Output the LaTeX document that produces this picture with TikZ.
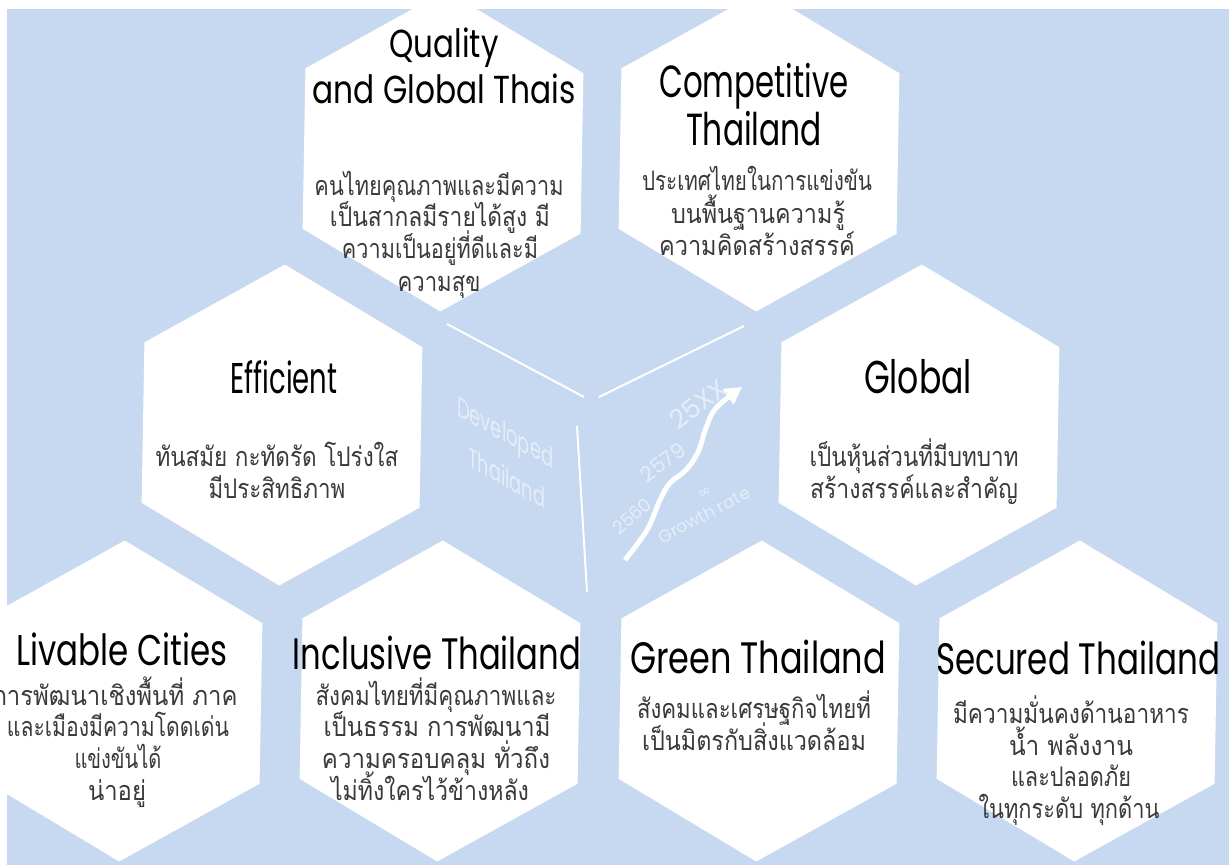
\documentclass[tikz,border=0pt]{standalone}
\usepackage{fontspec}
\usepackage{graphicx}
\usetikzlibrary{shapes.geometric,arrows.meta}
\setmainfont{Poppins}
\newfontfamily\ttlfont{Poppins}
\newfontfamily\thaifont[Script=Thai]{Loma}
\newfontfamily\symfont{DejaVu Sans}
\definecolor{bgblue}{RGB}{198,217,240}
\definecolor{thgray}{RGB}{58,58,58}
\definecolor{faintc}{RGB}{229,237,248}
\newcommand{\fitw}[2]{\resizebox{#1pt}{\height}{#2}}
\tikzset{
  hexa/.style={regular polygon, regular polygon sides=6, shape border rotate=29,
    minimum size=321pt, inner sep=0pt, fill=white, draw=none},
  ttl/.style={anchor=base, inner sep=0pt, text=black,
    font=\ttlfont\fontsize{#1}{#1}\selectfont},
  ttl/.default=44,
  thl/.style={anchor=base, inner sep=0pt, text=thgray,
    font=\thaifont\fontsize{27}{27}\selectfont},
  faintt/.style={inner sep=0pt, text=faintc, font=\ttlfont\fontsize{#1}{#1}\selectfont},
  cubeline/.style={white, line width=2pt},
}
\begin{document}
\begin{tikzpicture}[x=1pt,y=-1pt]
\useasboundingbox (0,0) rectangle (1229,865);
\fill[bgblue] (7,9) rectangle (1229,865);

% hexagons
\node[hexa] (Qh) at (443,151) {};
\node[hexa] (Ch) at (759,151) {};
\node[hexa] (Eh) at (282,425) {};
\node[hexa] (Gh) at (919,425) {};
\node[hexa] (Lh) at (122,701) {};
\node[hexa] (Ih) at (440,701) {};
\node[hexa] (Grh) at (759,701) {};
\node[hexa] (Sh) at (1077,701) {};

% centre cube
\draw[cubeline] (447,324) -- (584,397);
\draw[cubeline] (599,397) -- (744,326);
\draw[cubeline] (577,426) -- (587,592);
\node[faintt=28, anchor=base west, yslant=-0.56] (dev1) at (457,415) {\fitw{96}{Developed}};
\node[faintt=28, anchor=base west, yslant=-0.56] (dev2) at (468,466) {\fitw{77}{Thailand}};
\draw[white, line width=5pt, -{Triangle[length=17pt,width=18pt]}]
  plot[smooth, tension=0.6] coordinates {(625,560) (647,530) (660,500) (670,483) (686,470) (698,452) (706,428) (716,408) (742,387)};
\node[faintt=18, rotate=40] (y1) at (632,516) {2560};
\node[faintt=21, rotate=37] (y2) at (663,462) {2579};
\node[faintt=26, rotate=37] (y3) at (698,404) {25XX};
\node[inner sep=0pt, text=faintc, font=\symfont\fontsize{16}{16}\selectfont, rotate=28] (inf) at (705,493) {∞};
\node[faintt=17, rotate=28] (gr) at (704,515) {Growth rate};

% Quality
\node[ttl=39] (Qt1) at (444,57) {\fitw{109}{Quality}};
\node[ttl=39] (Qt2) at (444,103) {\fitw{263}{and Global Thais}};
\node[thl] (Q1) at (439,195) {\fitw{249}{คนไทยคุณภาพและมีความ}};
\node[thl] (Q2) at (440,226) {\fitw{220}{เป็นสากลมีรายได้สูง มี}};
\node[thl] (Q3) at (440,258) {\fitw{196}{ความเป็นอยู่ที่ดีและมี}};
\node[thl] (Q4) at (439,291) {\fitw{83}{ความสุข}};

% Competitive
\node[ttl=45] (Ct1) at (754,97) {\fitw{189}{Competitive}};
\node[ttl=45] (Ct2) at (754,145) {\fitw{136}{Thailand}};
\node[thl] (C1) at (757,190) {\fitw{230}{ประเทศไทยในการแข่งขัน}};
\node[thl] (C2) at (758,223) {\fitw{174}{บนพื้นฐานความรู้}};
\node[thl] (C3) at (757,255) {\fitw{196}{ความคิดสร้างสรรค์}};

% Efficient
\node[ttl=43] (Et) at (284,393) {\fitw{107}{Efficient}};
\node[thl] (E1) at (277,466) {\fitw{243}{ทันสมัย กะทัดรัด โปร่งใส}};
\node[thl] (E2) at (277,498) {\fitw{137}{มีประสิทธิภาพ}};

% Global
\node[ttl=46] (Gt) at (918,393) {\fitw{108}{Global}};
\node[thl] (G1) at (914,466) {\fitw{209}{เป็นหุ้นส่วนที่มีบทบาท}};
\node[thl] (G2) at (914,498) {\fitw{208}{สร้างสรรค์และสำคัญ}};

% Livable
\node[ttl=43] (Lt) at (122,665) {\fitw{211}{Livable Cities}};
\node[thl] (L1) at (115,705) {\fitw{245}{การพัฒนาเชิงพื้นที่ ภาค}};
\node[thl] (L2) at (118,736) {\fitw{222}{และเมืองมีความโดดเด่น}};
\node[thl] (L3) at (118,768) {\fitw{87}{แข่งขันได้}};
\node[thl] (L4) at (117,800) {\fitw{58}{น่าอยู่}};

% Inclusive
\node[ttl=44] (It) at (437,669) {\fitw{288}{Inclusive Thailand}};
\node[thl] (I1) at (436,705) {\fitw{241}{สังคมไทยที่มีคุณภาพและ}};
\node[thl] (I2) at (437,736) {\fitw{227}{เป็นธรรม การพัฒนามี}};
\node[thl] (I3) at (436,768) {\fitw{228}{ความครอบคลุม ทั่วถึง}};
\node[thl] (I4) at (430,800) {\fitw{198}{ไม่ทิ้งใครไว้ข้างหลัง}};

% Green
\node[ttl=44] (Grt) at (758,673) {\fitw{256}{Green Thailand}};
\node[thl] (Gr1) at (754,718) {\fitw{234}{สังคมและเศรษฐกิจไทยที่}};
\node[thl] (Gr2) at (754,750) {\fitw{224}{เป็นมิตรกับสิ่งแวดล้อม}};

% Secured
\node[ttl=44] (St) at (1078,674) {\fitw{284}{Secured Thailand}};
\node[thl] (S1) at (1071,723) {\fitw{236}{มีความมั่นคงด้านอาหาร}};
\node[thl] (S2) at (1071,755) {\fitw{124}{น้ำ พลังงาน}};
\node[thl] (S3) at (1071,786) {\fitw{120}{และปลอดภัย}};
\node[thl] (S4) at (1069,818) {\fitw{181}{ในทุกระดับ ทุกด้าน}};
\end{tikzpicture}
\end{document}
